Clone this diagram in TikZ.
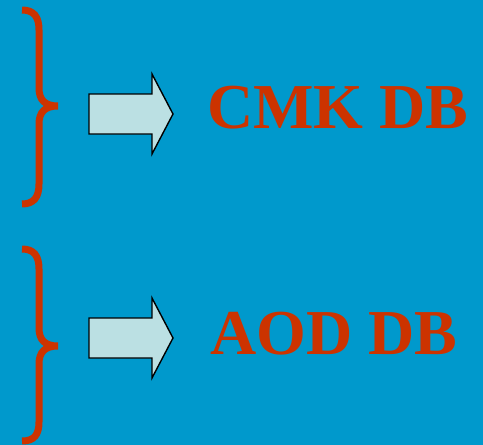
\documentclass[tikz,border=0pt]{standalone}
\usepackage{fontspec}
\setmainfont{Liberation Serif}
\definecolor{slidebg}{HTML}{0099CC}
\definecolor{bracered}{HTML}{CC3300}
\definecolor{arrowfill}{HTML}{BBE0E3}

\begin{document}
\begin{tikzpicture}[
			x = 1pt,
			y = -1pt,
			brace/.style = {draw = bracered, line width = 7pt},
			bigarrow/.style = {draw = black, line width = 1.4pt, fill = arrowfill, line join = miter},
			dbname/.style = {text = bracered, font = \fontsize{64}{70}\selectfont\bfseries, inner sep = 0pt}]
			\fill[slidebg] (0,0) rectangle (483,445);
			\useasboundingbox (0,0) rectangle (483,445);

			% braces on the left
			\draw[brace] (22,10) .. controls (34,10) and (39,17) .. (39,30) -- (39,88)
				.. controls (39,100) and (45,106) .. (58,106)
				.. controls (45,106) and (39,112) .. (39,124) -- (39,184)
				.. controls (39,197) and (34,204) .. (22,204);
			\draw[brace] (22,249) .. controls (34,249) and (39,256) .. (39,269) -- (39,328)
				.. controls (39,340) and (45,346) .. (58,346)
				.. controls (45,346) and (39,352) .. (39,364) -- (39,422)
				.. controls (39,435) and (34,441) .. (22,441);

			% block arrows
			\foreach \y in {114,338} {
				\draw[bigarrow] (89,\y-20) -- (152,\y-20) -- (152,\y-40) -- (173,\y)
					-- (152,\y+40) -- (152,\y+20) -- (89,\y+20) -- cycle;
			}

			\node[dbname, anchor = west] (cmk) at (207,108) {CMK DB};
			\node[dbname, anchor = west] (aod) at (210,334) {AOD DB};
		\end{tikzpicture}
\end{document}
